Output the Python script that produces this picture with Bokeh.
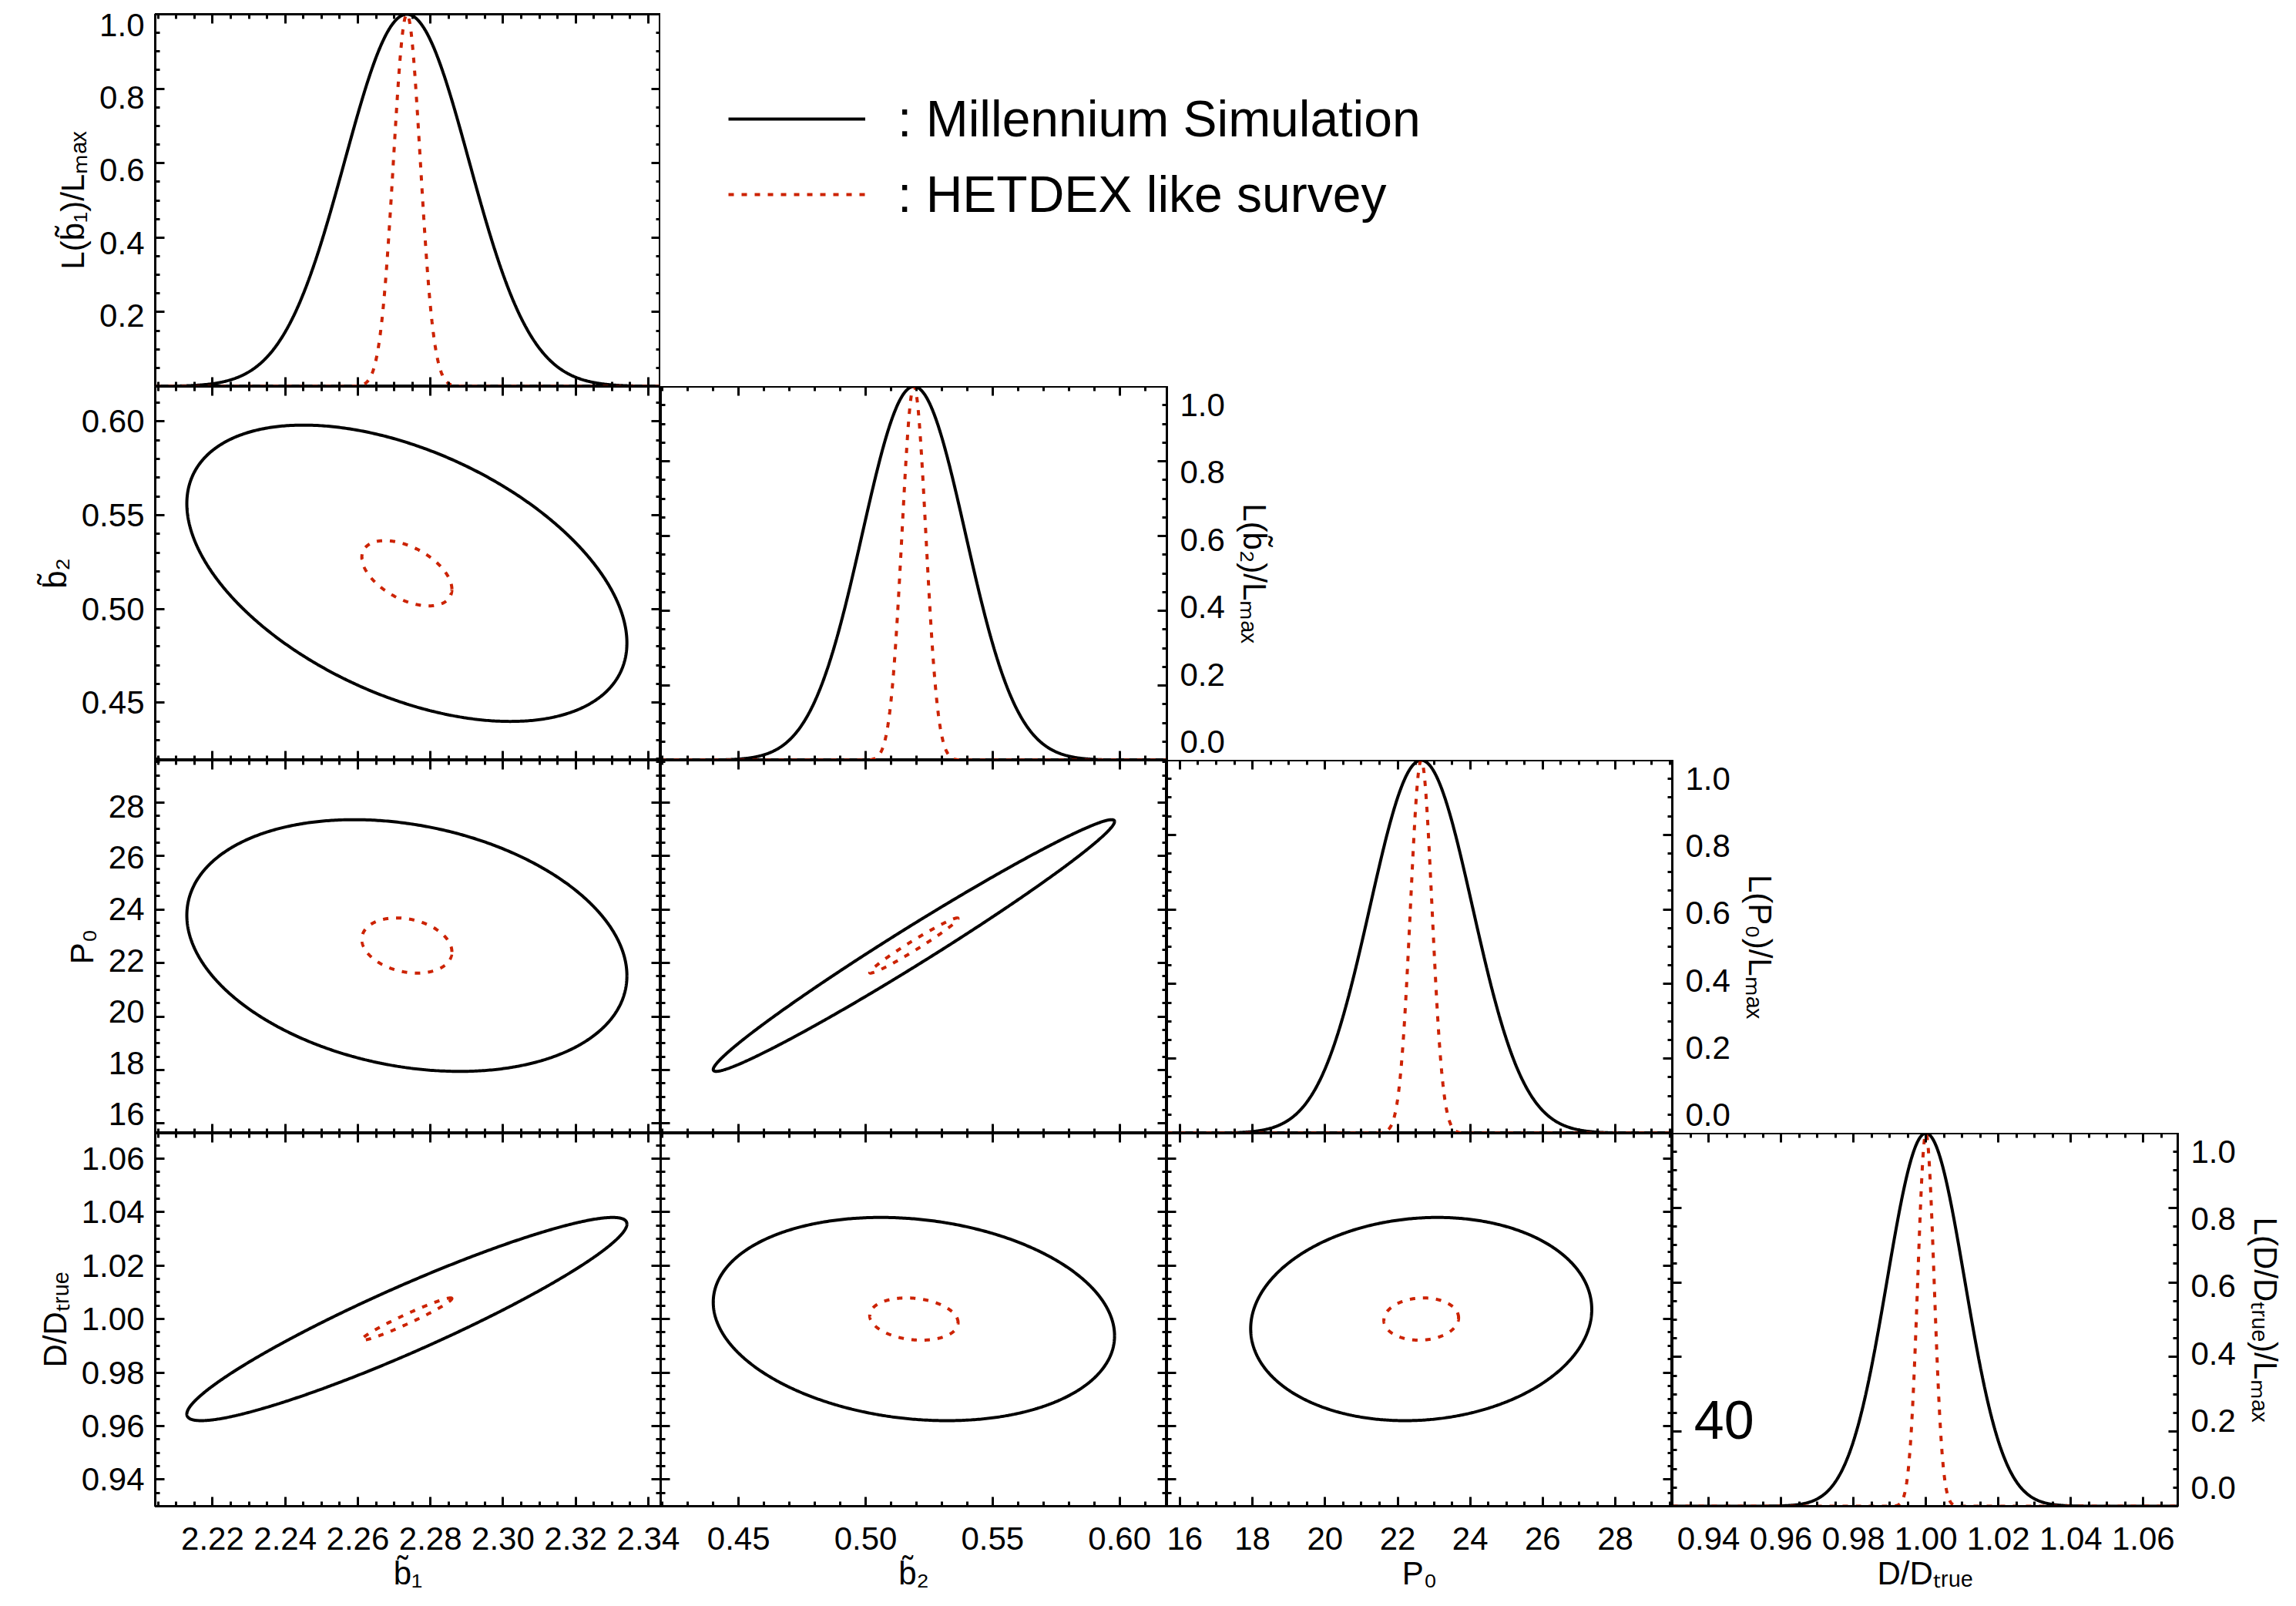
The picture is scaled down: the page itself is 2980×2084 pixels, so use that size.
import math

import numpy as np
from bokeh.embed import file_html
from bokeh.layouts import column, row
from bokeh.models import (CustomLabelingPolicy, FixedTicker, Label, Legend,
                          LegendItem, LinearAxis, PrintfTickFormatter, Range1d)
from bokeh.plotting import figure
from bokeh.resources import INLINE

FONT = "Liberation Sans"
RED = "#cc2200"

# ---- forecast parameters ----------------------------------------------------
param_names = ["b\u0303\u2081", "b\u0303\u2082", "P\u2080", "D/D\u209c\u1d63\u1d64\u2091"]
like_names = ["L(" + n + ")/L\u2098\u2090\u2093" for n in param_names]

best_fit = [2.2735, 0.519, 22.65, 1.000]

# widths of the 1-D likelihood profiles
sigma_ms = [0.0171, 0.0203, 1.414, 0.0107]
sigma_hetdex = [0.0037, 0.0047, 0.297, 0.00226]

# half extents of the 2-D confidence contours
extent_ms = [0.0606, 0.0790, 4.70, 0.0380]
extent_hetdex = [0.0124, 0.0174, 1.03, 0.0079]

# correlation coefficient of every (row, column) pair
pair_rows = [1, 2, 3, 2, 3, 3]
pair_cols = [0, 0, 0, 1, 1, 2]
corr_ms = [-0.47, -0.24, 0.935, 0.985, -0.165, 0.095]
corr_hetdex = [-0.49, -0.23, 0.97, 0.98, -0.17, 0.06]

legend_labels = [": Millennium Simulation", ": HETDEX like survey"]
survey_size = "40"

# ---- axes -------------------------------------------------------------------
axis_lo = [2.2042, 0.4193, 15.64, 0.9300]
axis_hi = [2.3434, 0.6186, 29.57, 1.0695]
major_ticks = [
    [2.22, 2.24, 2.26, 2.28, 2.30, 2.32, 2.34],
    [0.45, 0.50, 0.55, 0.60],
    [16, 18, 20, 22, 24, 26, 28],
    [0.94, 0.96, 0.98, 1.00, 1.02, 1.04, 1.06],
]
minor_step = [0.005, 0.01, 0.5, 0.005]
tick_format = ["%.2f", "%.2f", "%d", "%.2f"]
like_ticks = [0.0, 0.2, 0.4, 0.6, 0.8, 1.0]
like_ticks_top = [0.2, 0.4, 0.6, 0.8, 1.0]
like_minor_step = 0.05

# ---- page geometry ----------------------------------------------------------
PAGE_W = 2980
COL_W = [857, 657, 656, 810]
ROW_H = [501, 485, 484, 614]
PAD_L, PAD_R, PAD_T, PAD_B = 201, 154, 18, 130
TICK_FS = "42px"
TITLE_FS = "42px"
CURVE_W = 4


def minor_list(lo, hi, step):
    k0 = int(math.ceil(lo / step - 1e-9))
    k1 = int(math.floor(hi / step + 1e-9))
    return [round(k * step, 6) for k in range(k0, k1 + 1)]


def style_title(ax, title, standoff):
    ax.axis_label = title
    ax.axis_label_text_font = FONT
    ax.axis_label_text_font_size = TITLE_FS
    ax.axis_label_text_font_style = "normal"
    ax.axis_label_text_color = "black"
    ax.axis_label_standoff = standoff


def style_labels(ax, standoff):
    ax.major_label_text_font = FONT
    ax.major_label_text_font_size = TICK_FS
    ax.major_label_text_color = "black"
    ax.major_label_standoff = standoff


def add_axis(p, side, ticks, minor, fmt, labels=False, title=None,
             standoff=14, title_standoff=8):
    ax = LinearAxis(ticker=FixedTicker(ticks=ticks, minor_ticks=minor),
                    formatter=PrintfTickFormatter(format=fmt))
    ax.axis_line_width = 3
    ax.axis_line_color = "black"
    ax.major_tick_in = 12
    ax.major_tick_out = 0
    ax.minor_tick_in = 6
    ax.minor_tick_out = 0
    ax.major_tick_line_width = 3
    ax.minor_tick_line_width = 3
    if labels:
        style_labels(ax, standoff)
    else:
        # tick marks only on this side
        ax.major_label_text_font_size = "0px"
        ax.major_label_standoff = 0
        ax.major_label_policy = CustomLabelingPolicy(code="return []")
    if title:
        style_title(ax, title, title_standoff)
    p.add_layout(ax, side)
    return ax


def add_label_axis(p, side, ticks, fmt, lo, hi, frame_h, v0, v1, d0, d1,
                   title, standoff, title_standoff):
    """Tick labels only, with the outermost labels nudged d0/d1 px upward so
    they stay inside the panel."""
    p0 = (v0 - lo) / (hi - lo) * frame_h + d0
    p1 = (v1 - lo) / (hi - lo) * frame_h + d1
    s = (p1 - p0) / (v1 - v0)
    a = v0 - p0 / s
    p.extra_y_ranges = {"tick_labels": Range1d(a, a + frame_h / s)}
    ax = LinearAxis(y_range_name="tick_labels", ticker=FixedTicker(ticks=ticks),
                    formatter=PrintfTickFormatter(format=fmt))
    ax.axis_line_color = None
    ax.major_tick_line_color = None
    ax.minor_tick_line_color = None
    ax.major_tick_in = 0
    ax.major_tick_out = 0
    ax.minor_tick_in = 0
    ax.minor_tick_out = 0
    style_labels(ax, standoff)
    style_title(ax, title, title_standoff)
    p.add_layout(ax, side)


t = np.linspace(0.0, 2.0 * np.pi, 721)


def contour(cx, cy, hx, hy, rho):
    xs = cx + hx * np.cos(t)
    ys = cy + hy * (rho * np.cos(t) + np.sqrt(1.0 - rho ** 2) * np.sin(t))
    return xs, ys


rows = [[] for _ in range(4)]
for r in range(4):
    for c in range(r + 1):
        diag = r == c
        x0 = sum(COL_W[:c])
        left = PAD_L if c == 0 else 0
        top = PAD_T if r == 0 else 0
        bottom = PAD_B if r == 3 else 0
        frame_w = COL_W[c] - (PAD_L if c == 0 else 0) - (PAD_R if c == 3 else 0)
        frame_h = ROW_H[r] - top - bottom
        width = PAGE_W - x0 if (diag and r > 0) else COL_W[c]
        extra = 40 if (r == 3 and c == 0) else 0   # room for the last tick label
        width += extra
        right = width - left - frame_w

        y_lo, y_hi = (0.0, 1.0) if diag else (axis_lo[r], axis_hi[r])
        p = figure(width=width, height=ROW_H[r],
                   x_range=Range1d(axis_lo[c], axis_hi[c]),
                   y_range=Range1d(y_lo, y_hi),
                   x_axis_type=None, y_axis_type=None,
                   output_backend="svg", toolbar_location=None,
                   min_border_left=left, min_border_right=right,
                   min_border_top=top, min_border_bottom=bottom)
        if extra:
            p.margin = (0, -extra, 0, 0)
        p.outline_line_color = "black"
        p.outline_line_width = 3
        p.background_fill_color = "white"
        p.border_fill_color = "white"
        if r == 3 and c == 1:
            p.border_fill_color = None

        # x axes
        xm = minor_list(axis_lo[c], axis_hi[c], minor_step[c])
        add_axis(p, "above", major_ticks[c], xm, tick_format[c])
        if r == 3:
            add_axis(p, "below", major_ticks[c], xm, tick_format[c], labels=True,
                     title=param_names[c], standoff=27, title_standoff=4)
        else:
            add_axis(p, "below", major_ticks[c], xm, tick_format[c])

        # y axes
        lm = minor_list(0.0, 1.0, like_minor_step)
        if diag:
            yt, ym, yf = like_ticks, lm, "%.1f"
        else:
            yt, ym, yf = major_ticks[r], minor_list(axis_lo[r], axis_hi[r], minor_step[r]), tick_format[r]
        if c == 0 and not diag and r != 2:
            add_axis(p, "left", yt, ym, yf, labels=True, title=param_names[r],
                     standoff=14, title_standoff=8)
        else:
            add_axis(p, "left", yt, ym, yf)
            if diag and r == 0:
                add_label_axis(p, "left", like_ticks_top, "%.1f", 0.0, 1.0, frame_h,
                               0.0, 1.0, -2, -14, like_names[0], 14, 8)
            elif c == 0 and r == 2:
                add_label_axis(p, "left", yt, yf, axis_lo[r], axis_hi[r], frame_h,
                               yt[0], yt[-1], 12, -5, param_names[r], 14, 8)
        add_axis(p, "right", yt, ym, yf)
        if diag and r > 0:
            add_label_axis(p, "right", like_ticks, "%.1f", 0.0, 1.0, frame_h,
                           0.0, 1.0, 24, -24, like_names[r], 17, 12)

        if diag:
            xs = np.linspace(axis_lo[c], axis_hi[c], 801)
            y_ms = np.exp(-0.5 * ((xs - best_fit[c]) / sigma_ms[c]) ** 2)
            y_hx = np.exp(-0.5 * ((xs - best_fit[c]) / sigma_hetdex[c]) ** 2)
            p.line(xs, y_ms, line_color="black", line_width=CURVE_W)
            p.line(xs, y_hx, line_color=RED, line_width=4, line_dash="7 10")
            if r == 3:
                p.add_layout(Label(x=0.936, y=0.232, text=survey_size,
                                   text_font=FONT, text_font_size="70px",
                                   text_align="left", text_baseline="alphabetic",
                                   text_color="black"))
        else:
            k = [i for i in range(6) if pair_rows[i] == r and pair_cols[i] == c][0]
            xb, yb = contour(best_fit[c], best_fit[r], extent_ms[c], extent_ms[r], corr_ms[k])
            xr, yr = contour(best_fit[c], best_fit[r], extent_hetdex[c], extent_hetdex[r], corr_hetdex[k])
            p.line(xb, yb, line_color="black", line_width=CURVE_W)
            p.line(xr, yr, line_color=RED, line_width=4, line_dash="7 10")

        rows[r].append(p)

# legend box to the right of the top panel; its two line samples carry no data
key = figure(width=PAGE_W - COL_W[0], height=ROW_H[0], x_range=Range1d(0, 1),
             y_range=Range1d(0, 1), x_axis_type=None, y_axis_type=None,
             output_backend="svg", toolbar_location=None,
             min_border_left=0, min_border_right=0, min_border_top=0, min_border_bottom=0)
key.outline_line_color = None
key.background_fill_color = "white"
key.border_fill_color = "white"
k_ms = key.line(x=[np.nan], y=[np.nan], line_color="black", line_width=CURVE_W)
k_hx = key.line(x=[np.nan], y=[np.nan], line_color=RED, line_width=4, line_dash="7 10")
key.add_layout(Legend(items=[LegendItem(label=legend_labels[0], renderers=[k_ms]),
                             LegendItem(label=legend_labels[1], renderers=[k_hx])],
                      location=(88, 211), orientation="vertical",
                      glyph_width=178, glyph_height=76, label_height=76,
                      label_standoff=42, spacing=22, padding=0, margin=0,
                      border_line_color=None, background_fill_alpha=0,
                      label_text_font=FONT, label_text_font_size="66px",
                      label_text_color="black"))
rows[0].append(key)

layout = column([row(figs, spacing=0) for figs in rows], spacing=0)

with open("out.html", "w") as f:
    f.write(file_html(layout, INLINE, title="Likelihood forecast"))
